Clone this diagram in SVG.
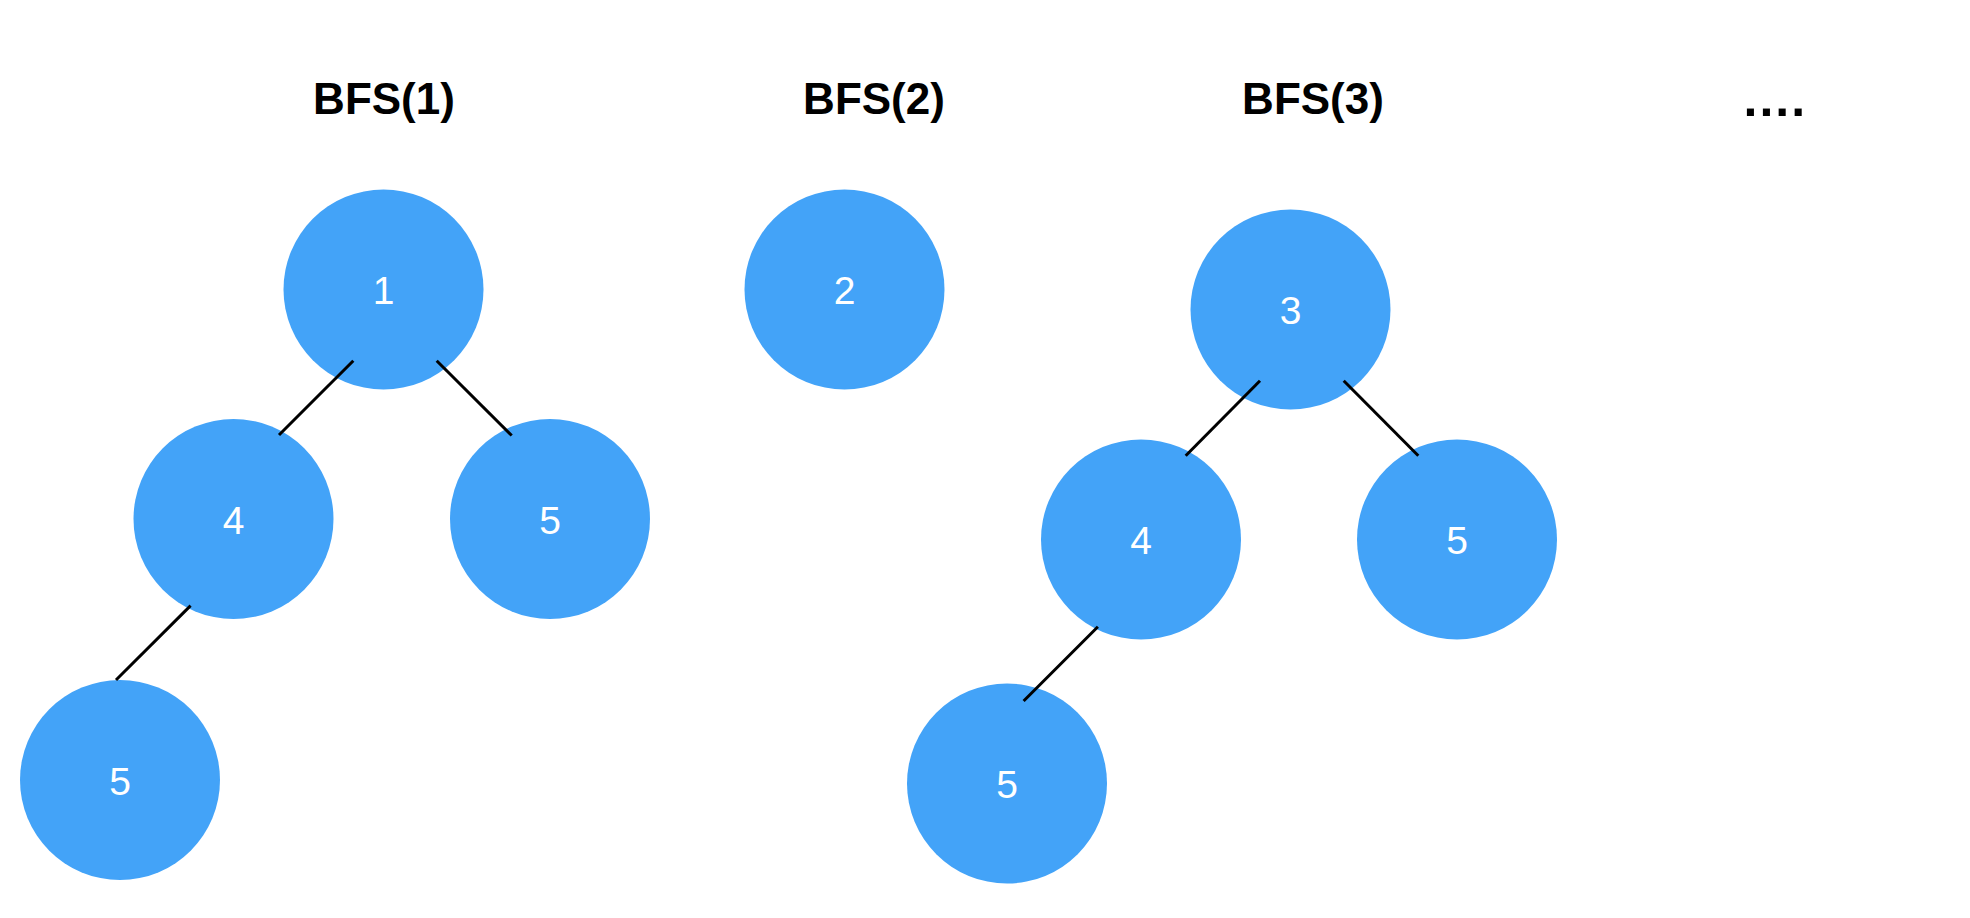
<svg xmlns="http://www.w3.org/2000/svg" width="1970" height="918" viewBox="0 0 1970 918">
  <style>
    .node circle { fill: #43a3f8; }
    .node text { fill: #ffffff; font-family: "Liberation Sans", Arial, sans-serif; font-size: 39px; text-anchor: middle; }
    .title { fill: #000000; font-family: "Liberation Sans", Arial, sans-serif; font-size: 44px; font-weight: bold; text-anchor: middle; }
    .edges line { stroke: #000000; stroke-width: 3; }
  </style>
  <rect width="1970" height="918" fill="#ffffff"/>

  <!-- headings -->
  <text class="title" x="384" y="114">BFS(1)</text>
  <text class="title" x="874" y="114">BFS(2)</text>
  <text class="title" x="1313" y="114">BFS(3)</text>
  <text class="title" x="1743.5" y="116" style="font-size:50px;letter-spacing:2px;text-anchor:start">....</text>

  <!-- tree 1 -->
  <g id="t1-n1" class="node"><circle cx="383.5" cy="289.5" r="100"/><text x="383.5" y="304">1</text></g>
  <g id="t1-n4" class="node"><circle cx="233.5" cy="519" r="100"/><text x="233.5" y="534">4</text></g>
  <g id="t1-n5a" class="node"><circle cx="550" cy="519" r="100"/><text x="550" y="534">5</text></g>
  <g id="t1-n5b" class="node"><circle cx="120" cy="780" r="100"/><text x="120" y="795">5</text></g>

  <!-- tree 2 -->
  <g id="t2-n2" class="node"><circle cx="844.5" cy="289.5" r="100"/><text x="844.5" y="304">2</text></g>

  <!-- tree 3 -->
  <g id="t3-n3" class="node"><circle cx="1290.5" cy="309.5" r="100"/><text x="1290.5" y="324">3</text></g>
  <g id="t3-n4" class="node"><circle cx="1141" cy="539.5" r="100"/><text x="1141" y="554">4</text></g>
  <g id="t3-n5a" class="node"><circle cx="1457" cy="539.5" r="100"/><text x="1457" y="554">5</text></g>
  <g id="t3-n5b" class="node"><circle cx="1007" cy="783.5" r="100"/><text x="1007" y="798">5</text></g>

  <!-- edges -->
  <g id="edges" class="edges">
    <line x1="353.3" y1="360.7" x2="279" y2="435"/>
    <line x1="436.7" y1="360.7" x2="511.7" y2="435.5"/>
    <line x1="190.6" y1="605.6" x2="116" y2="680"/>
    <line x1="1260" y1="380.7" x2="1185.7" y2="455.7"/>
    <line x1="1343.7" y1="380.7" x2="1418.3" y2="455.7"/>
    <line x1="1097.9" y1="626.7" x2="1023.6" y2="701"/>
  </g>
</svg>
